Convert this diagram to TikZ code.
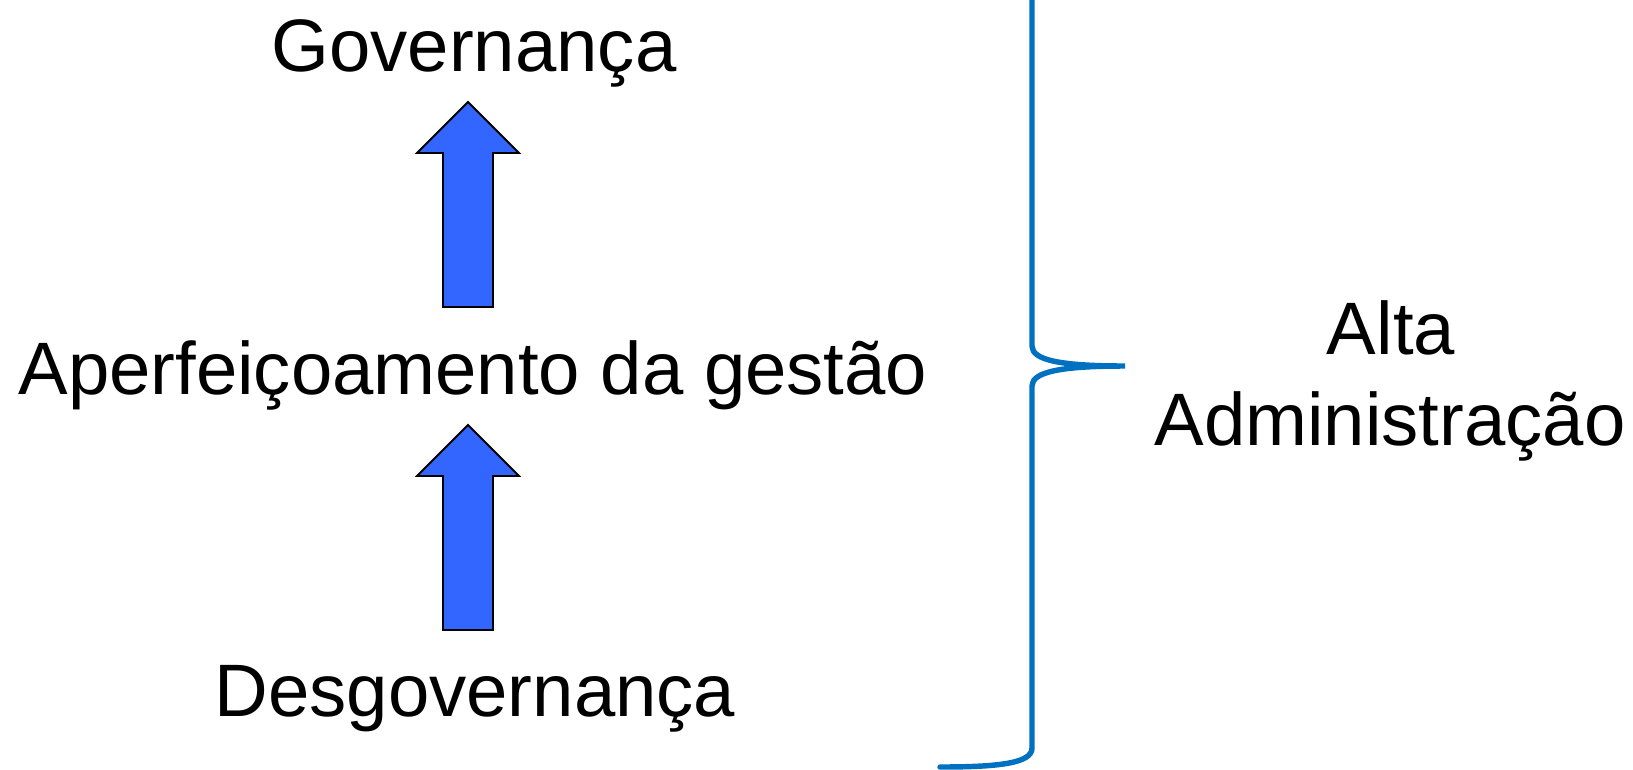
\documentclass[tikz,border=0pt]{standalone}
\usepackage{fontspec}
\setmainfont{Liberation Sans}
\usetikzlibrary{positioning}

\definecolor{bracecolor}{RGB}{0,112,192}
\definecolor{arrowfill}{RGB}{51,102,255}

\tikzset{
    label text/.style={inner sep=0pt,anchor=base,font=\fontsize{42.3}{50}\selectfont},
    block arrow/.style={draw=black,line width=1.1pt,fill=arrowfill,line join=miter},
    brace line/.style={draw=bracecolor,line width=3.1pt,line cap=round}
}

\begin{document}
\begin{tikzpicture}[x=0.02cm,y=-0.02cm]
            \useasboundingbox (0,0) rectangle (1633,769);
            \clip (0,0) rectangle (1633,769);

            % Levels:
            \node[label text] (gov)   at (474,71)  {Governança};
            \node[label text] (aperf) at (473,394) {Aperfeiçoamento da gestão};
            \node[label text] (desg)  at (475,716) {Desgovernança};

            % Block arrows between the levels
            \foreach \dy in {0, 323}
            \draw[block arrow,yshift=-\dy*0.02cm]
                (443,307) -- (443,153) -- (417,153) -- (468,102)
                -- (519,153) -- (493,153) -- (493,307) -- cycle;

            % Brace:
            \coordinate (tip) at (1125,366);
            \draw[brace line]
                (940,767) .. controls (1000,767) and (1032,763) .. (1032,748)
                -- (1032,386) .. controls (1032,372) and (1060,366) .. (tip)
                .. controls (1060,366) and (1032,360) .. (1032,346)
                -- (1032,-20);

            % Label right of the brace
            \node[label text] (alta)  at (1391,354) {Alta};
            \node[label text] (admin) at (1390,445) {Administração};
\end{tikzpicture}
\end{document}
